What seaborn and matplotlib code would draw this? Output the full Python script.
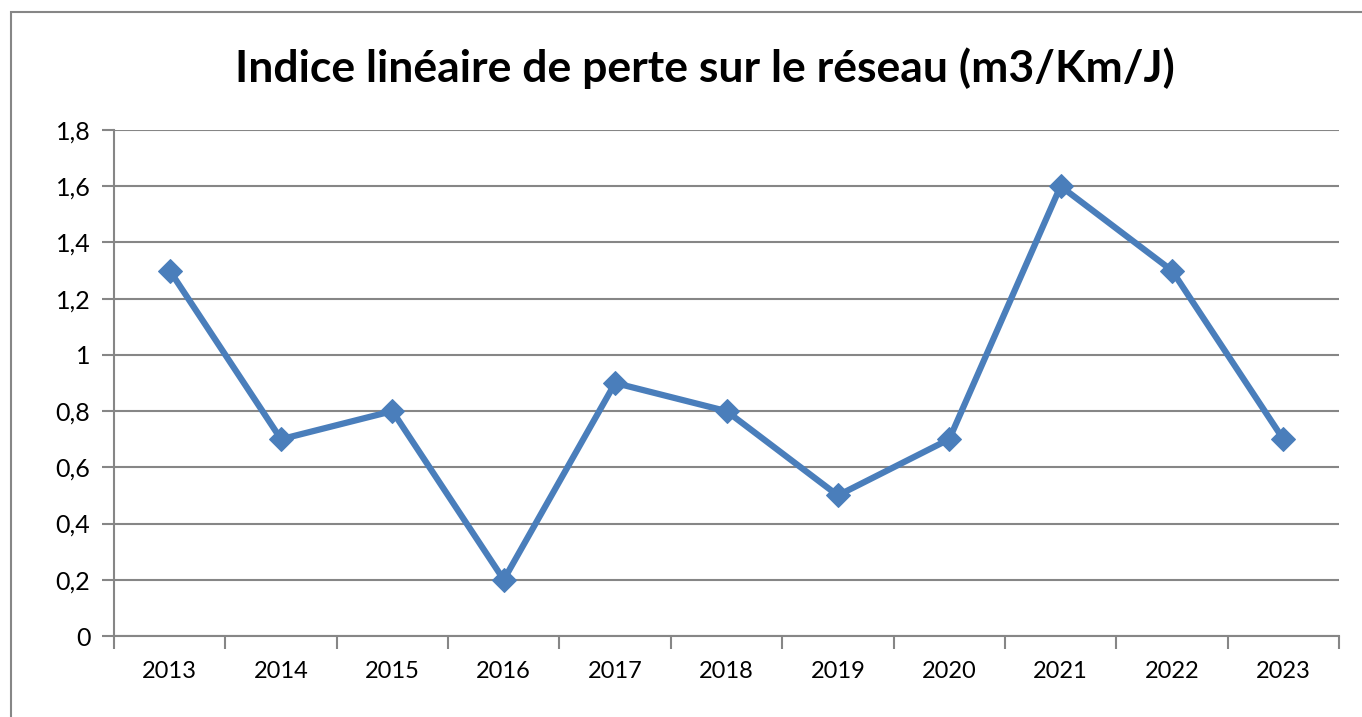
import matplotlib
matplotlib.use("Agg")
import matplotlib.pyplot as plt
import seaborn as sns
import pandas as pd
from matplotlib.patches import Rectangle
from matplotlib.ticker import FixedLocator

years = ["2013", "2014", "2015", "2016", "2017", "2018", "2019", "2020", "2021", "2022", "2023"]
values = [1.3, 0.7, 0.8, 0.2, 0.9, 0.8, 0.5, 0.7, 1.6, 1.3, 0.7]
yticks = [0, 0.2, 0.4, 0.6, 0.8, 1.0, 1.2, 1.4, 1.6, 1.8]
ytick_labels = ["0", "0,2", "0,4", "0,6", "0,8", "1", "1,2", "1,4", "1,6", "1,8"]
title = "Indice linéaire de perte sur le réseau (m3/Km/J)"

sns.set_style("white")
plt.rcParams['font.family'] = ['Lato', 'DejaVu Sans']

df = pd.DataFrame({"year": years, "value": values})

fig = plt.figure(figsize=(13.62, 7.17), dpi=100)
W, H = 1362, 717
ax = fig.add_axes([114 / W, 1 - 636 / H, (1339 - 114) / W, (636 - 130) / H])

grey = "#868686"
line_color = "#4A7EBB"

# outer chart frame
fig.patches.append(Rectangle((11 / W, -0.1), 1.2, 1 - 12 / H + 0.1, transform=fig.transFigure,
                             fill=False, edgecolor=grey, linewidth=1.5))

sns.lineplot(data=df, x="year", y="value", ax=ax, color=line_color, linewidth=4.5,
             marker="D", markersize=12, markeredgecolor=line_color, markerfacecolor=line_color,
             sort=False)

ax.set_xlim(-0.5, len(years) - 0.5)
ax.set_ylim(0, 1.8)
ax.set_yticks(yticks)
ax.set_yticklabels(ytick_labels)
ax.yaxis.grid(True, color=grey, linewidth=1.5)
ax.set_axisbelow(True)

ax.xaxis.set_major_locator(FixedLocator([i - 0.5 for i in range(len(years) + 1)]))
ax.xaxis.set_minor_locator(FixedLocator(list(range(len(years)))))
ax.set_xticklabels([""] * (len(years) + 1))
ax.set_xticklabels(years, minor=True)
ax.tick_params(axis="x", which="major", direction="out", length=9, width=1.5, color=grey, bottom=True)
ax.tick_params(axis="x", which="minor", length=0, labelsize=17, pad=18, labelcolor="black")
ax.tick_params(axis="y", direction="out", length=9, width=1.5, color=grey, left=True,
               labelsize=18, pad=8, labelcolor="black")

for s in ["top", "right"]:
    ax.spines[s].set_visible(False)
for s in ["left", "bottom"]:
    ax.spines[s].set_color(grey)
    ax.spines[s].set_linewidth(1.5)

ax.set_xlabel("")
ax.set_ylabel("")

fig.text(705 / W, 1 - 68 / H, title, ha="center", va="center", fontsize=32, fontweight="bold",
         color="black")

fig.savefig("out.png", dpi=100, facecolor="white")
